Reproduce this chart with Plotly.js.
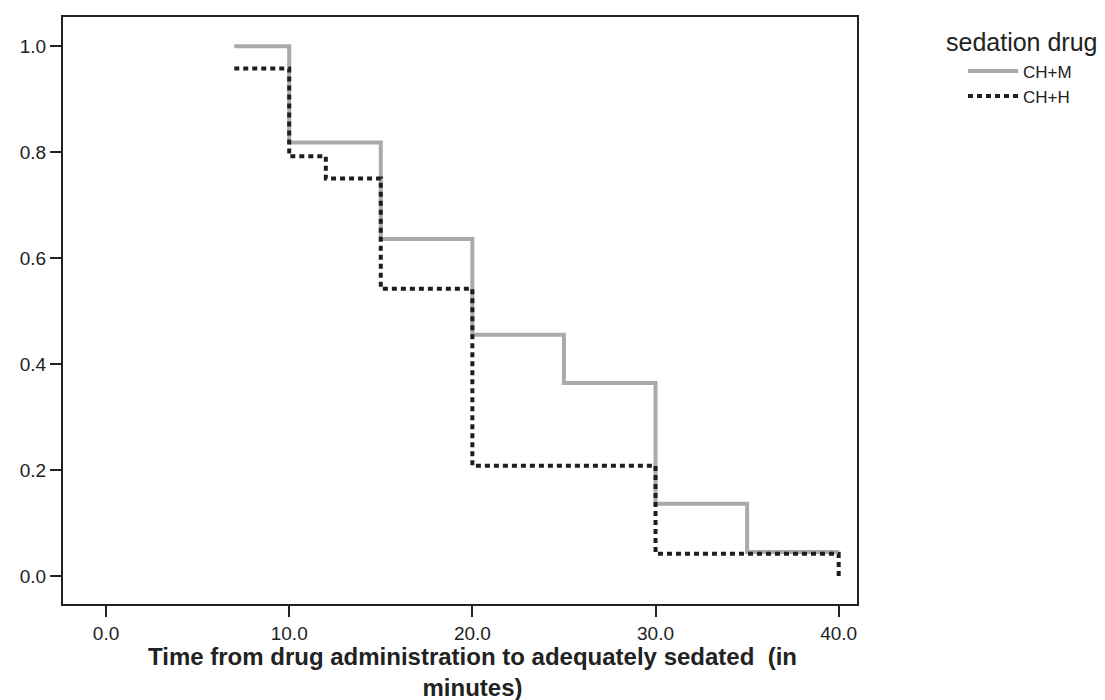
<!DOCTYPE html>
<html>
<head>
<meta charset="utf-8">
<script src="https://cdn.plot.ly/plotly-3.0.1.min.js"></script>
<style>html,body{margin:0;padding:0;background:#fff;}#chart{width:1105px;height:700px;}</style>
</head>
<body>
<div id="chart"></div>
<script>
// Kaplan-Meier style step data
const seriesNames = ["CH+M", "CH+H"];
const chmTime = [7, 10, 15, 20, 25, 30, 35, 40];
const chmSurv = [1.0, 0.818, 0.636, 0.455, 0.364, 0.136, 0.045, 0.045];
const chhTime = [7, 10, 12, 15, 20, 30, 40];
const chhSurv = [0.958, 0.792, 0.75, 0.542, 0.208, 0.042, 0.0];
const xTickVals = [0, 10, 20, 30, 40];
const xTickText = ["0.0", "10.0", "20.0", "30.0", "40.0"];
const yTickVals = [0, 0.2, 0.4, 0.6, 0.8, 1.0];
const yTickText = ["0.0", "0.2", "0.4", "0.6", "0.8", "1.0"];
const legendTitle = "sedation drug";
const xTitleLines = ["Time from drug administration to adequately sedated  (in", "minutes)"];

const font = "Liberation Sans, Arial, sans-serif";

const traces = [
  {
    x: chmTime, y: chmSurv, name: seriesNames[0], type: "scatter", mode: "lines",
    line: {shape: "hv", color: "#a9aaad", width: 4}
  },
  {
    x: chhTime, y: chhSurv, name: seriesNames[1], type: "scatter", mode: "lines",
    line: {shape: "hv", color: "#1e1e1e", width: 4, dash: "5px,4px"}
  }
];

const layout = {
  width: 1105, height: 700,
  margin: {l: 63, r: 248, t: 17, b: 96, autoexpand: false},
  paper_bgcolor: "#fff", plot_bgcolor: "#fff",
  font: {family: font, color: "#222", size: 18},
  showlegend: true,
  legend: {
    x: 1.1335, xanchor: "left", y: 0.938, yanchor: "top",
    font: {size: 17, color: "#222"},
    itemwidth: 50, tracegroupgap: 0, bgcolor: "rgba(0,0,0,0)"
  },
  xaxis: {
    range: [-2.35, 41.0], tickvals: xTickVals, ticktext: xTickText,
    showgrid: false, zeroline: false,
    showline: true, mirror: true, linecolor: "#222", linewidth: 2,
    ticks: "outside", ticklen: 11, tickwidth: 2, tickcolor: "#222",
    tickfont: {size: 19, color: "#222"}
  },
  yaxis: {
    range: [-0.053, 1.055], tickvals: yTickVals, ticktext: yTickText,
    showgrid: false, zeroline: false,
    showline: true, mirror: true, linecolor: "#222", linewidth: 2,
    ticks: "outside", ticklen: 11, tickwidth: 2, tickcolor: "#222",
    tickfont: {size: 19, color: "#222"}
  },
  annotations: [
    {
      text: "<b>" + xTitleLines.join("<br>") + "</b>", xref: "x", yref: "paper", x: 20, y: -0.063,
      xanchor: "center", yanchor: "top", showarrow: false, align: "center",
      font: {size: 24, color: "#222", family: font}
    },
    {
      text: legendTitle, xref: "paper", yref: "paper", x: (944 - 63) / 794, y: 0.957,
      xanchor: "left", yanchor: "middle", showarrow: false,
      font: {size: 25, color: "#222", family: font}
    }
  ]
};

Plotly.newPlot("chart", traces, layout, {displayModeBar: false, staticPlot: true});
</script>
</body>
</html>
